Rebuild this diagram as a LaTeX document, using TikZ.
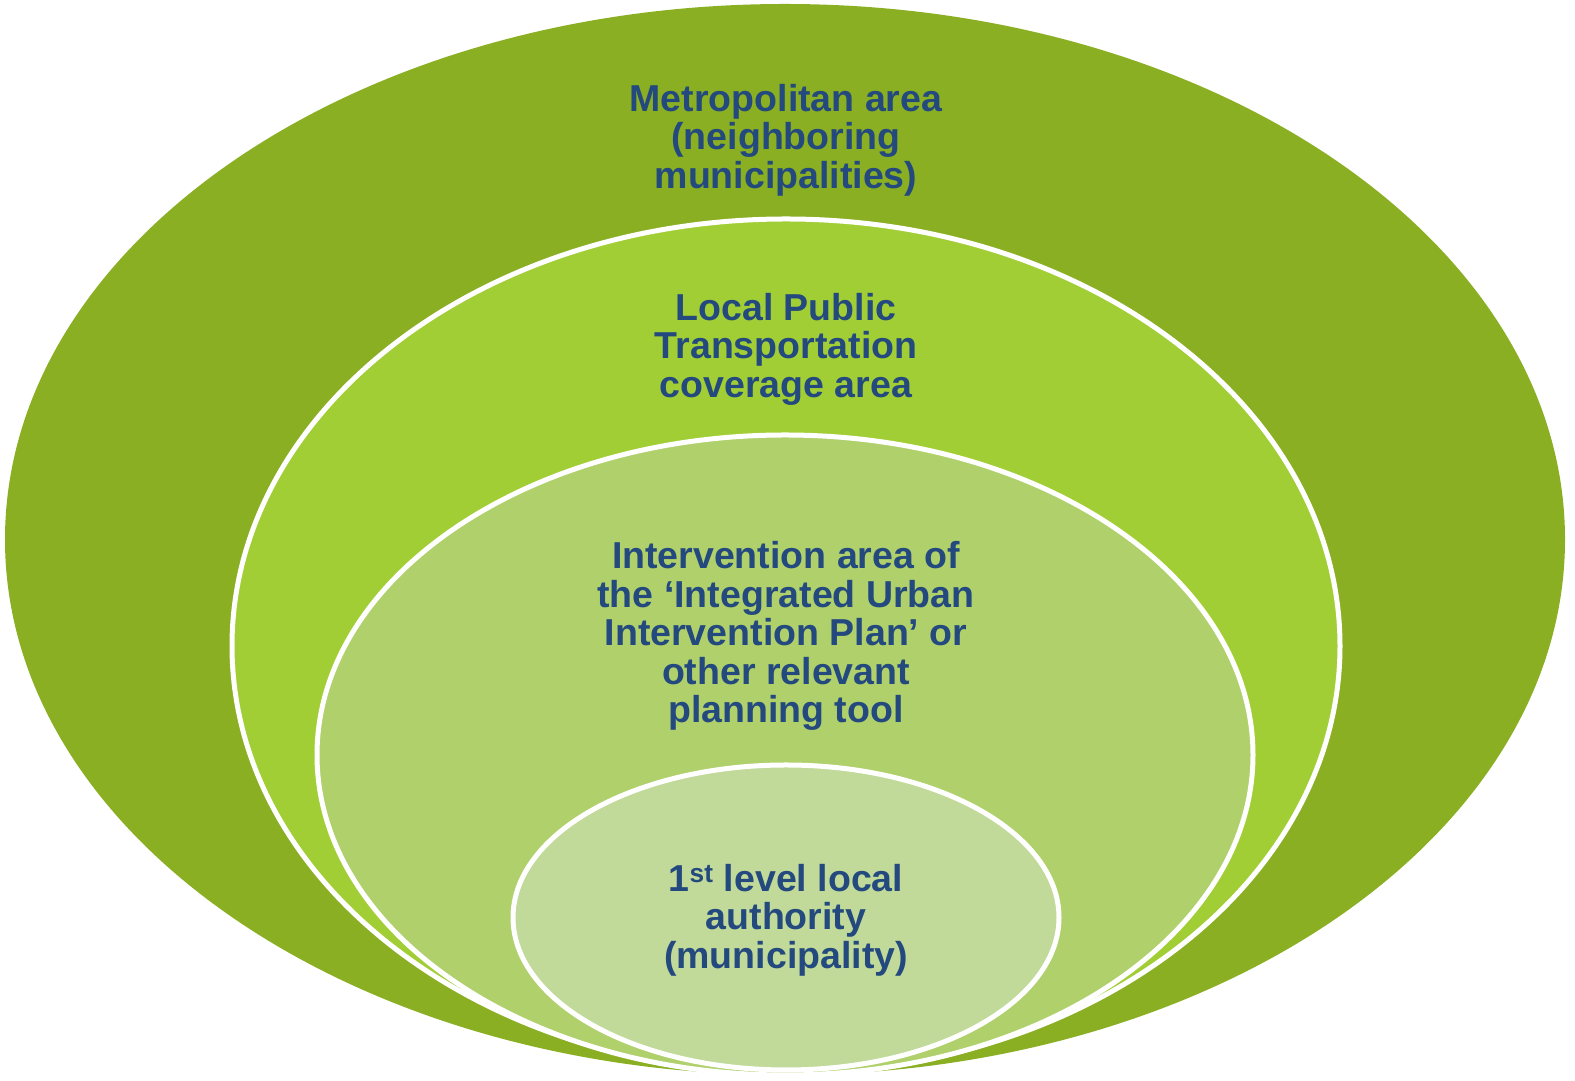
\documentclass[tikz,border=0pt]{standalone}
\usepackage{fontspec}
\setmainfont{Liberation Sans}
\usepackage{xcolor}
\usetikzlibrary{shapes.geometric}
\definecolor{metrogreen}{HTML}{8AAF22}
\definecolor{ptgreen}{HTML}{A2CE35}
\definecolor{plangreen}{HTML}{B0D06B}
\definecolor{towngreen}{HTML}{C1DA99}
\definecolor{labelblue}{HTML}{23497E}

\begin{document}
\begin{tikzpicture}[x=1pt,y=1pt,
        area/.style={ellipse,inner sep=0pt,draw=white,line width=5pt},
        label/.style={align=center,text=labelblue,font=\bfseries\fontsize{37.5}{38.5}\selectfont}]
        \useasboundingbox (0,0) rectangle (1575,1081);
        \node[area,draw=none,fill=metrogreen,minimum width=1560pt,minimum height=1071pt](metro) at (785,541.5) {};
        \node[area,fill=ptgreen,minimum width=1108pt,minimum height=854pt](pt) at (786,435) {};
        \node[area,fill=plangreen,minimum width=936pt,minimum height=640pt](plan) at (785,326) {};
        \node[area,fill=towngreen,minimum width=546pt,minimum height=305pt](town) at (786,163.5) {};
        \node[label](metrotext) at (786,941) {Metropolitan area\\(neighboring\\municipalities)};
        \node[label](pttext) at (786,732) {Local Public\\Transportation\\coverage area};
        \node[label](plantext) at (786,445) {Intervention area of\\the ‘Integrated Urban\\Intervention Plan’ or\\other relevant\\planning tool};
        \node[label](towntext) at (786,161) {1\textsuperscript{st} level local\\authority\\(municipality)};
        \end{tikzpicture}
\end{document}
